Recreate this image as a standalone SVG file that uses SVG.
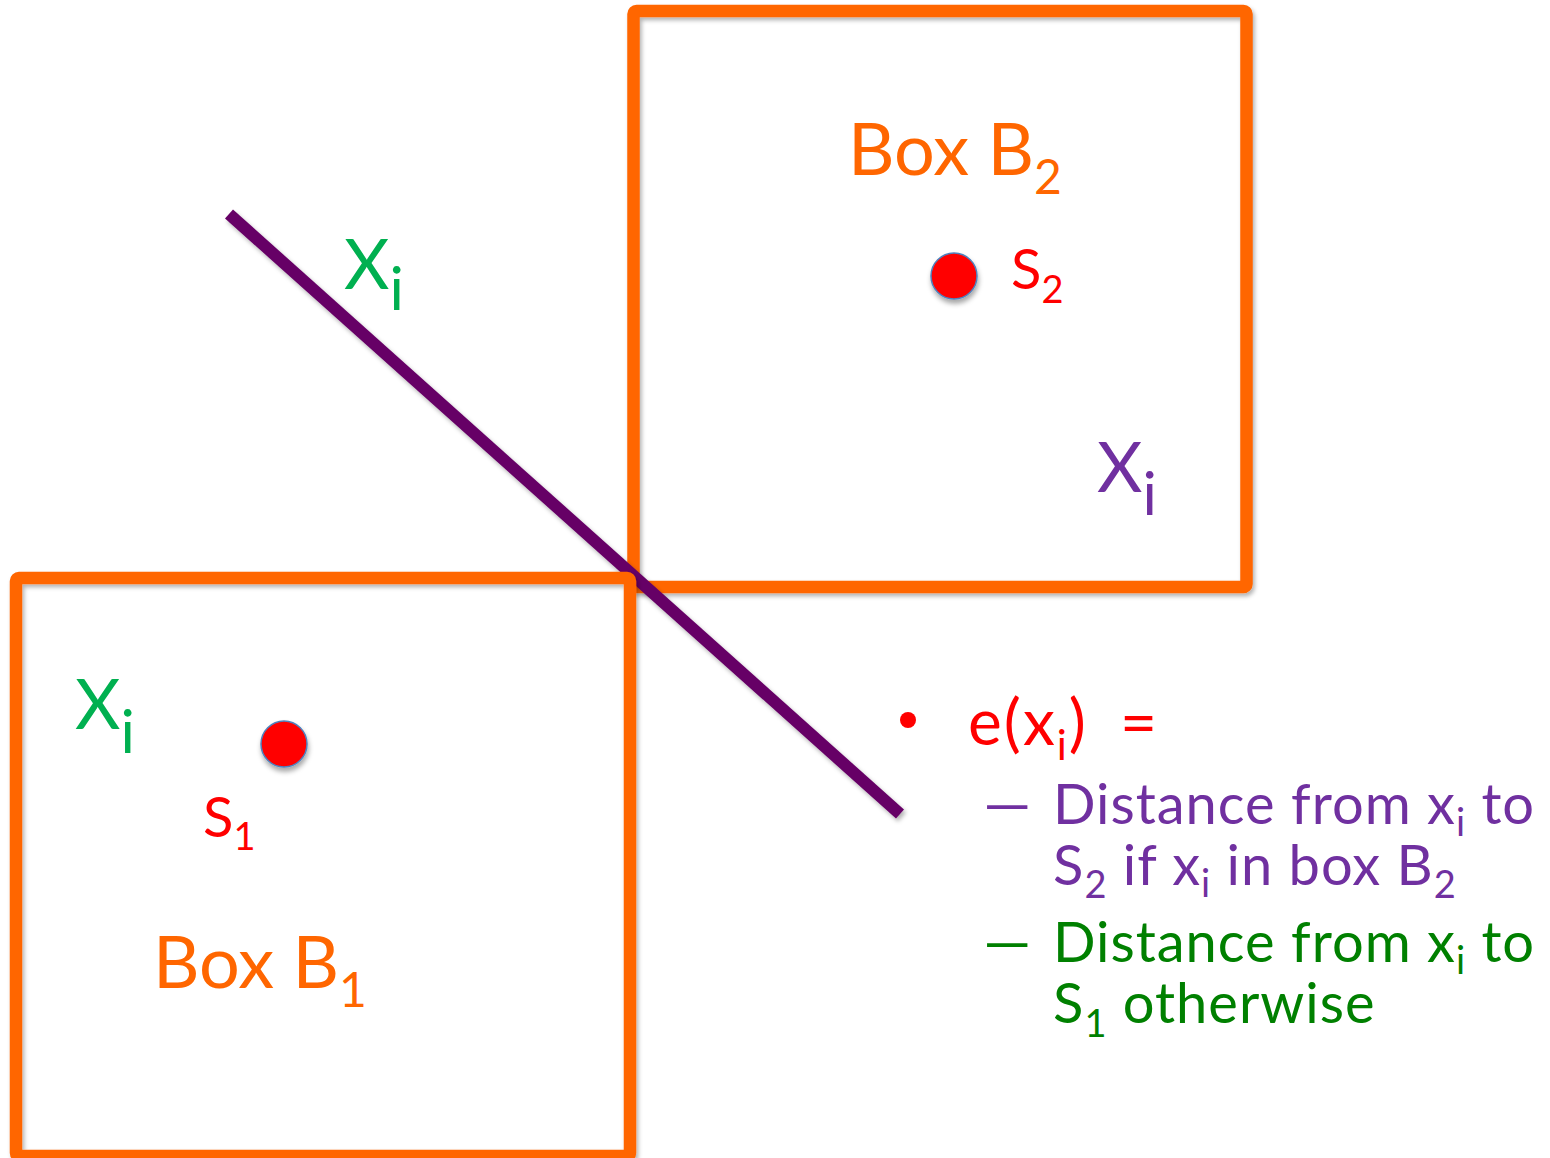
<svg xmlns="http://www.w3.org/2000/svg" width="1550" height="1158" viewBox="0 0 1550 1158">
<defs>
<filter id="sh" x="-10%" y="-10%" width="130%" height="130%">
<feDropShadow dx="2" dy="3" stdDeviation="2" flood-color="#000" flood-opacity="0.3"/>
</filter>
<filter id="shd" x="-50%" y="-50%" width="200%" height="200%">
<feDropShadow dx="1" dy="4" stdDeviation="2.5" flood-color="#000" flood-opacity="0.35"/>
</filter>
<style>
.box{fill:none;stroke:#FF6600;stroke-width:12.5;stroke-linejoin:round;filter:url(#sh)}
.dot{fill:#FF0000;stroke:#4F81BD;stroke-width:1.5;filter:url(#shd)}
text{font-family:Lato,"Liberation Sans",sans-serif}
.org{fill:#FF6600;font-size:72px}
.red{fill:#FF0000}
.grn{fill:#00B050;font-size:70px}
.pur{fill:#7030A0}
.dgr{fill:#008000}
.big{font-size:56px}
.sp{letter-spacing:1px}
</style>
</defs>
<rect width="1550" height="1158" fill="#fff"/>
<g id="boxB2">
<rect class="box" x="633.5" y="11" width="613" height="576" rx="3"/>
<text class="org" x="848" y="175">Box B<tspan font-size="48" dy="19">2</tspan></text>
</g>
<g id="connectors">
<line x1="229" y1="214" x2="900" y2="814" stroke="#660066" stroke-width="12" filter="url(#sh)"/>
</g>
<g id="boxB1">
<rect class="box" x="16" y="578" width="614" height="578" rx="3"/>
<text class="org" x="153" y="988">Box B<tspan font-size="48" dy="19">1</tspan></text>
</g>
<g id="S2">
<circle class="dot" cx="954" cy="276" r="23"/>
<text class="red big" x="1011" y="289">S<tspan font-size="38" dy="14">2</tspan></text>
</g>
<g id="S1">
<circle class="dot" cx="284" cy="744" r="23"/>
<text class="red big" x="203" y="837">S<tspan font-size="38" dy="13">1</tspan></text>
</g>
<g id="xi-top">
<text class="grn" x="344" y="289">X<tspan font-size="60" dy="21">i</tspan></text>
</g>
<g id="xi-b1">
<text class="grn" x="75" y="729">X<tspan font-size="60" dy="24">i</tspan></text>
</g>
<g id="xi-b2">
<text class="pur" font-size="70" x="1097" y="492">X<tspan font-size="60" dy="23">i</tspan></text>
</g>
<g id="legend">
<circle cx="908" cy="720" r="8" fill="#FF0000"/>
<text class="red" font-size="64" letter-spacing="2" x="968" y="745">e(x<tspan font-size="42" dy="15">i</tspan><tspan dy="-15">)</tspan><tspan x="1120">=</tspan></text>
<text class="pur big" transform="translate(978 824) scale(1.8 1)" x="0" y="0">–</text>
<text class="pur big sp" x="1053" y="824">Distance from x<tspan font-size="38" dy="12">i</tspan><tspan dy="-12"> to</tspan></text>
<text class="pur big sp" x="1053" y="885">S<tspan font-size="38" dy="13">2</tspan><tspan dy="-13"> if x</tspan><tspan font-size="38" dy="12">i</tspan><tspan dy="-12"> in box B</tspan><tspan font-size="38" dy="13">2</tspan></text>
<text class="dgr big" transform="translate(978 962) scale(1.8 1)" x="0" y="0">–</text>
<text class="dgr big sp" x="1053" y="962">Distance from x<tspan font-size="38" dy="12">i</tspan><tspan dy="-12"> to</tspan></text>
<text class="dgr big sp" x="1053" y="1023">S<tspan font-size="38" dy="14">1</tspan><tspan dy="-14"> otherwise</tspan></text>
</g>
</svg>
